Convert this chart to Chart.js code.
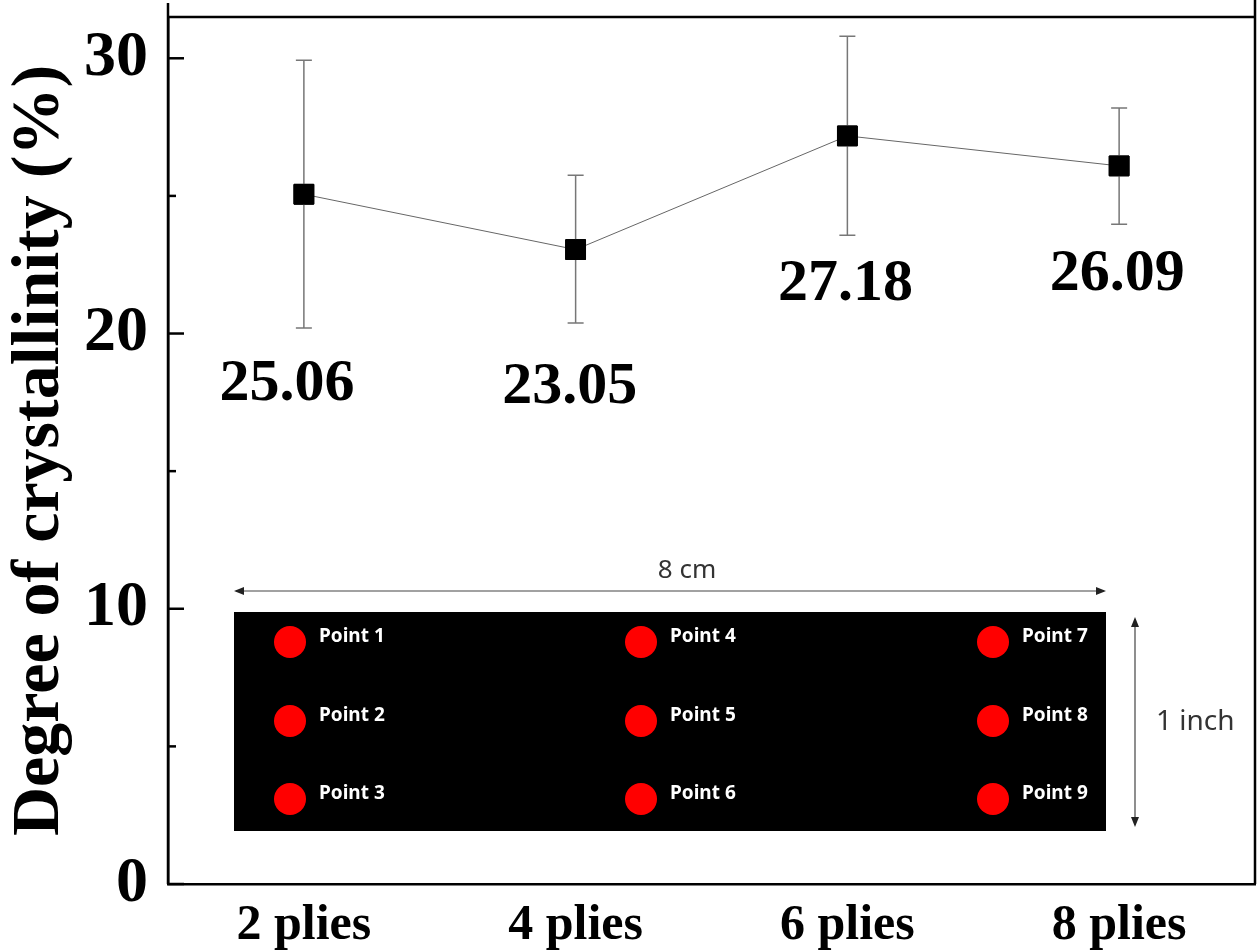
<!DOCTYPE html>
<html>
<head>
<meta charset="utf-8">
<script src="https://cdn.jsdelivr.net/npm/chart.js@4"></script>
<style>
  html, body { margin: 0; padding: 0; background: #fff; }
  #wrap { width: 1260px; height: 952px; }
</style>
</head>
<body>
<div id="wrap"><canvas id="myChart" width="1260" height="952"></canvas></div>
<script>
const categories = ["2 plies", "4 plies", "6 plies", "8 plies"];
const crystallinity = [25.06, 23.05, 27.18, 26.09];
const errLow = [20.2, 20.38, 23.57, 23.97];
const errHigh = [29.93, 25.75, 30.8, 28.19];
const majorTicks = [0, 10, 20, 30];
const minorTicks = [5, 15, 25];
const valueLabels = ["25.06", "23.05", "27.18", "26.09"];

// where each value label sits relative to its point (px)
const labelOffsets = [[-17, 190], [-6, 138], [-2, 149], [-2, 109]];

const serif = "'Liberation Serif', 'Times New Roman', serif";
const sans = "'Noto Sans', 'DejaVu Sans', sans-serif";

const framePlugin = {
  id: "frame",
  afterDraw(chart) {
    const ctx = chart.ctx;
    const a = chart.chartArea;
    const y = chart.scales.y;
    const x = chart.scales.x;
    ctx.save();

    // frame: top and right lines, left axis reaching above the top
    ctx.strokeStyle = "#000";
    ctx.lineWidth = 2.5;
    ctx.beginPath();
    ctx.moveTo(a.left, a.top);
    ctx.lineTo(a.right, a.top);
    ctx.moveTo(a.right, 0);
    ctx.lineTo(a.right, a.bottom);
    ctx.moveTo(a.left, 3);
    ctx.lineTo(a.left, a.bottom);
    ctx.stroke();

    // inward ticks
    majorTicks.forEach(v => {
      const py = y.getPixelForValue(v);
      ctx.beginPath();
      ctx.moveTo(a.left, py);
      ctx.lineTo(a.left + 16, py);
      ctx.stroke();
    });
    minorTicks.forEach(v => {
      const py = y.getPixelForValue(v);
      ctx.beginPath();
      ctx.moveTo(a.left, py);
      ctx.lineTo(a.left + 8, py);
      ctx.stroke();
    });

    // inset schematic
    const ox = a.left, oy = a.top;
    const rx = ox + 66, ry = oy + 595, rw = 872, rh = 219;
    ctx.fillStyle = "#000";
    ctx.fillRect(rx, ry, rw, rh);

    const dotX = [ox + 122, ox + 473, ox + 825];
    const dotY = [oy + 625, oy + 704, oy + 782];
    let n = 1;
    dotX.forEach(dx => {
      dotY.forEach(dy => {
        ctx.fillStyle = "#ff0000";
        ctx.beginPath();
        ctx.arc(dx, dy, 16, 0, Math.PI * 2);
        ctx.fill();
        ctx.fillStyle = "#fff";
        ctx.font = "bold 19px " + sans;
        ctx.textAlign = "left";
        ctx.textBaseline = "middle";
        ctx.fillText("Point " + n, dx + 29, dy - 5);
        n++;
      });
    });

    // 8 cm arrow
    ctx.strokeStyle = "#444";
    ctx.fillStyle = "#222";
    ctx.lineWidth = 1.2;
    const ay = oy + 574;
    ctx.beginPath();
    ctx.moveTo(rx + 2, ay);
    ctx.lineTo(rx + rw - 2, ay);
    ctx.stroke();
    ctx.beginPath();
    ctx.moveTo(rx, ay); ctx.lineTo(rx + 10, ay - 4); ctx.lineTo(rx + 10, ay + 4); ctx.closePath();
    ctx.moveTo(rx + rw, ay); ctx.lineTo(rx + rw - 10, ay - 4); ctx.lineTo(rx + rw - 10, ay + 4); ctx.closePath();
    ctx.fill();
    ctx.font = "26px " + sans;
    ctx.fillStyle = "#333";
    ctx.textAlign = "center";
    ctx.textBaseline = "alphabetic";
    ctx.fillText("8 cm", ox + 519, oy + 561);

    // 1 inch arrow
    const ax = ox + 967;
    const ty = oy + 600, by = oy + 810;
    ctx.beginPath();
    ctx.moveTo(ax, ty + 2);
    ctx.lineTo(ax, by - 2);
    ctx.stroke();
    ctx.fillStyle = "#222";
    ctx.beginPath();
    ctx.moveTo(ax, ty); ctx.lineTo(ax - 4, ty + 10); ctx.lineTo(ax + 4, ty + 10); ctx.closePath();
    ctx.moveTo(ax, by); ctx.lineTo(ax - 4, by - 10); ctx.lineTo(ax + 4, by - 10); ctx.closePath();
    ctx.fill();
    ctx.font = "28px " + sans;
    ctx.fillStyle = "#333";
    ctx.textAlign = "left";
    ctx.textBaseline = "middle";
    ctx.fillText("1 inch", ox + 988, oy + 705);

    // error bars
    ctx.strokeStyle = "#777";
    ctx.lineWidth = 1.5;
    crystallinity.forEach((v, i) => {
      const px = x.getPixelForValue(i);
      const pTop = y.getPixelForValue(errHigh[i]);
      const pBot = y.getPixelForValue(errLow[i]);
      ctx.beginPath();
      ctx.moveTo(px, pTop); ctx.lineTo(px, pBot);
      ctx.moveTo(px - 8, pTop); ctx.lineTo(px + 8, pTop);
      ctx.moveTo(px - 8, pBot); ctx.lineTo(px + 8, pBot);
      ctx.stroke();
    });

    // value labels
    ctx.fillStyle = "#000";
    ctx.font = "bold 60px " + serif;
    ctx.textAlign = "center";
    ctx.textBaseline = "middle";
    crystallinity.forEach((v, i) => {
      const px = x.getPixelForValue(i);
      const py = y.getPixelForValue(v);
      ctx.fillText(valueLabels[i], px + labelOffsets[i][0], py + labelOffsets[i][1]);
    });
    ctx.restore();
  }
};

// redraw points on top of error bars
const pointsOnTop = {
  id: "pointsOnTop",
  afterDraw(chart) {
    const meta = chart.getDatasetMeta(0);
    meta.data.forEach(p => p.draw(chart.ctx, chart.chartArea));
  }
};

const ctx = document.getElementById("myChart").getContext("2d");
const chart = new Chart(ctx, {
  type: "line",
  data: {
    labels: categories,
    datasets: [
      {
        label: "Degree of crystallinity",
        data: crystallinity,
        borderColor: "#666",
        borderWidth: 1,
        backgroundColor: "#000",
        pointBackgroundColor: "#000",
        pointBorderColor: "#000",
        pointStyle: "rect",
        pointRadius: 14,
        pointHoverRadius: 14,
        tension: 0
      }
    ]
  },
  options: {
    responsive: false,
    animation: false,
    events: [],
    layout: { autoPadding: false, padding: { top: 17, right: 5, left: 0, bottom: 0 } },
    plugins: {
      legend: { display: false },
      tooltip: { enabled: false }
    },
    scales: {
      x: {
        type: "category",
        offset: true,
        grid: { display: false, drawTicks: false },
        border: { display: true, color: "#000", width: 2.5 },
        ticks: {
          color: "#000",
          padding: 12,
          font: { family: serif, size: 50, weight: "bold" }
        },
        afterFit(scale) {
          scale.height = 68;
          scale.paddingLeft = 0;
          scale.paddingRight = 0;
        }
      },
      y: {
        min: 0,
        max: 31.5,
        grid: { display: false, drawTicks: false },
        border: { display: true, color: "#000", width: 2.5 },
        ticks: {
          stepSize: 10,
          includeBounds: false,
          color: "#000",
          padding: 20,
          font: { family: serif, size: 64, weight: "bold" }
        },
        title: {
          display: true,
          text: "Degree of crystallinity (%)",
          color: "#000",
          padding: { top: 0, bottom: 0 },
          font: { family: serif, size: 68, weight: "bold" }
        },
        afterFit(scale) {
          scale.width = 168;
          scale.paddingTop = 0;
          scale.paddingBottom = 0;
        }
      }
    }
  },
  plugins: [framePlugin, pointsOnTop]
});
</script>
</body>
</html>
